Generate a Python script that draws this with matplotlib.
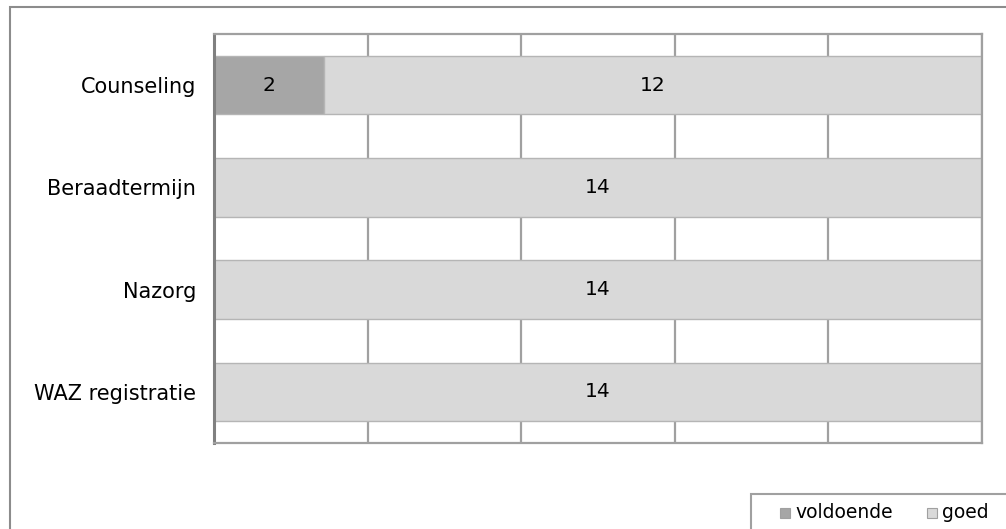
import matplotlib
matplotlib.use("Agg")
import matplotlib.pyplot as plt
from matplotlib.patches import Rectangle
import numpy as np

categories = ["Counseling", "Beraadtermijn", "Nazorg", "WAZ registratie"]
voldoende = [2, 0, 0, 0]
goed = [12, 14, 14, 14]
series_names = ["voldoende", "goed"]
colors = ["#a6a6a6", "#d9d9d9"]
x_max = 14
grid_step = 2.8

W, H = 1006, 529
fig = plt.figure(figsize=(W / 100, H / 100), dpi=100)
plt.rcParams['font.family'] = ['DejaVu Sans']

# outer frame
fig.add_artist(Rectangle((9.5 / W, -0.2), 2, 1.2 - 6.5 / H, transform=fig.transFigure,
                         fill=False, edgecolor="#8c8c8c", lw=1.5))

ax = fig.add_axes([214 / W, 1 - 443 / H, (982 - 214) / W, (443 - 34) / H])
y = np.arange(len(categories))
ax.set_xlim(0, x_max)
ax.set_ylim(len(categories) - 0.5, -0.5)

for xv in np.arange(0, x_max + 0.01, grid_step):
    ax.axvline(xv, color="#a0a0a0", lw=1.6, zorder=1)

h = 0.57
left = np.zeros(len(categories))
for vals, col in zip([voldoende, goed], colors):
    vals = np.array(vals, dtype=float)
    ax.barh(y, vals, left=left, height=h, color=col, edgecolor="#b5b5b5",
            lw=1.0, zorder=2)
    for yi, (l, v) in enumerate(zip(left, vals)):
        if v > 0:
            ax.text(l + v / 2, yi, f"{int(v)}", ha="center", va="center",
                    fontsize=14.5, color="black", zorder=3)
    left += vals

ax.set_yticks(y)
ax.set_yticklabels(categories, fontsize=15)
ax.tick_params(axis="y", length=0, pad=13)
ax.set_xticks([])
for s in ["top", "right", "bottom"]:
    ax.spines[s].set_color("#a0a0a0")
    ax.spines[s].set_linewidth(1.6)
ax.spines["left"].set_color("#808080")
ax.spines["left"].set_linewidth(2.2)

# legend
fig.add_artist(Rectangle((750.5 / W, -0.2), 1, 0.2 + 1 - 493.5 / H, transform=fig.transFigure,
                         fill=False, edgecolor="#a0a0a0", lw=1.5))
ly = 1 - 513 / H
sq = 10
for x0, col, name in [(780, colors[0], series_names[0]), (927, colors[1], series_names[1])]:
    fig.add_artist(Rectangle((x0 / W, ly - (sq / 2) / H), sq / W, sq / H,
                             transform=fig.transFigure, facecolor=col,
                             edgecolor="#a0a0a0", lw=0.8))
    fig.text((x0 + 15) / W, ly, name, fontsize=13.5, va="center", ha="left")

fig.savefig("out.png", dpi=100)
